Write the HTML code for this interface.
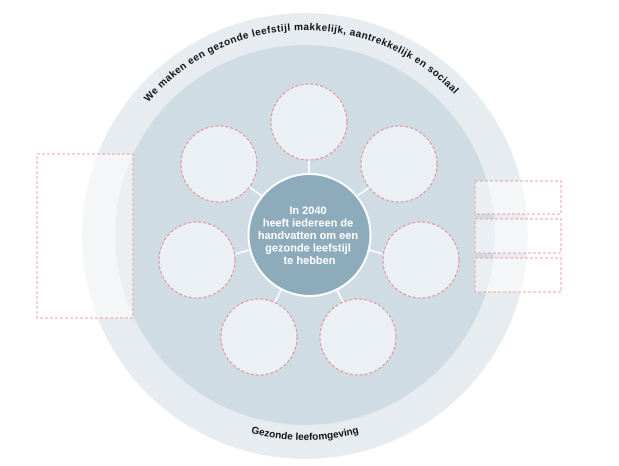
<!DOCTYPE html>
<html><head><meta charset="utf-8"><style>
html,body{margin:0;padding:0;background:#fff;}
svg{display:block;}
</style></head><body>
<svg width="619" height="466" viewBox="0 0 619 466" xmlns="http://www.w3.org/2000/svg">
<defs>
<path id="topArc" d="M 99 236 A 206 206 0 0 1 511 236"/>
<path id="botArc" d="M 101 236 A 204 204 0 0 0 509 236"/>
</defs>
<circle cx="305" cy="236" r="223" fill="#e6ecf0"/>
<circle cx="305" cy="235" r="190" fill="#cfdce4"/>
<text font-family="Liberation Sans, sans-serif" font-weight="bold" font-size="10" fill="#111">
<textPath href="#topArc" startOffset="318" text-anchor="middle" textLength="345" lengthAdjust="spacing">We maken een gezonde leefstijl makkelijk, aantrekkelijk en sociaal</textPath></text>
<text font-family="Liberation Sans, sans-serif" font-weight="bold" font-size="10" fill="#111">
<textPath href="#botArc" startOffset="50%" text-anchor="middle">Gezonde leefomgeving</textPath></text>
<g stroke="#fff" stroke-width="1.6">
<line x1="309" y1="174" x2="309" y2="160"/>
<line x1="262" y1="196" x2="249" y2="187"/>
<line x1="357" y1="196" x2="370" y2="187"/>
<line x1="249" y1="250" x2="235" y2="254"/>
<line x1="369" y1="250" x2="383" y2="254"/>
<line x1="281" y1="290" x2="275" y2="302"/>
<line x1="337" y1="290" x2="343" y2="302"/>
</g>
<g fill="#ebf0f4" stroke="#e8868c" stroke-width="1" stroke-dasharray="3,2">
<circle cx="309" cy="122" r="38"/>
<circle cx="219" cy="164" r="38"/>
<circle cx="399" cy="164" r="38"/>
<circle cx="197" cy="260" r="38"/>
<circle cx="421" cy="260" r="38"/>
<circle cx="259" cy="337" r="38"/>
<circle cx="358" cy="337" r="38"/>
</g>
<circle cx="309.5" cy="235" r="61" fill="#8eabbb" stroke="#fff" stroke-width="2"/>
<text font-family="Liberation Sans, sans-serif" font-weight="bold" font-size="11" fill="#fff" text-anchor="middle">
<tspan x="309.5" y="214">In 2040</tspan>
<tspan x="309.5" y="226.5">heeft iedereen de</tspan>
<tspan x="309.5" y="239">handvatten om een</tspan>
<tspan x="309.5" y="251.5">gezonde leefstijl</tspan>
<tspan x="309.5" y="264">te hebben</tspan>
</text>
<g fill="#ffffff" fill-opacity="0.55" stroke="#f0a0a5" stroke-width="1" stroke-dasharray="3,2">
<rect x="37" y="154" width="96" height="164"/>
<rect x="475" y="181" width="86" height="33"/>
<rect x="475" y="219" width="86" height="34"/>
<rect x="475" y="258" width="86" height="34"/>
</g>
</svg>
</body></html>
